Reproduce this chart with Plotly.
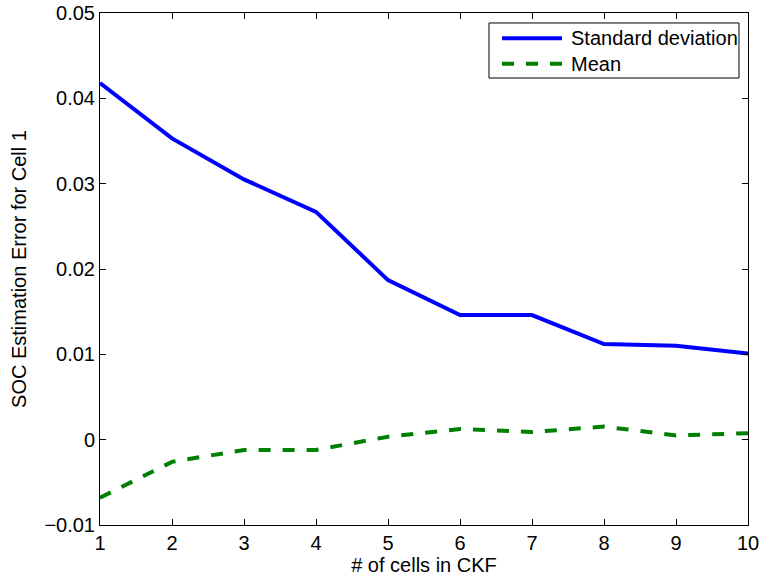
import plotly.graph_objects as go

# Number of cells included in the CKF
cells = [1, 2, 3, 4, 5, 6, 7, 8, 9, 10]

# SOC estimation error statistics for cell 1
std_dev = [0.0418, 0.0353, 0.0305, 0.0267, 0.0187, 0.0146, 0.0146, 0.0112, 0.0110, 0.0101]
mean_err = [-0.0068, -0.0026, -0.0012, -0.0012, 0.00035, 0.00125, 0.0009, 0.00153, 0.0005, 0.00075]

series_names = ["Standard deviation", "Mean"]
series_colors = ["#0000FF", "#008000"]
series_dash = ["solid", "12px,12px"]

y_ticks = [-0.01, 0, 0.01, 0.02, 0.03, 0.04, 0.05]
y_tick_text = ["\u22120.01", "0", "0.01", "0.02", "0.03", "0.04", "0.05"]

font_family = "Liberation Sans, Arial, Helvetica, sans-serif"
fsize = 20

fig = go.Figure()
for yvals, name, color, dash in zip([std_dev, mean_err], series_names, series_colors, series_dash):
    fig.add_trace(go.Scatter(
        x=cells, y=yvals, mode="lines", name=name, showlegend=False,
        line=dict(color=color, width=4, dash=dash),
    ))

axis_common = dict(
    showline=True, linecolor="black", linewidth=1, mirror="ticks",
    ticks="inside", ticklen=6, tickcolor="black", tickwidth=1,
    showgrid=False, zeroline=False, automargin=False,
    tickfont=dict(family=font_family, size=fsize, color="black"),
)

# Boxed legend in the upper right corner of the axes
shapes = [dict(
    type="rect", xref="paper", yref="paper",
    x0=0.6003, x1=0.9861, y0=0.873, y1=0.9805,
    line=dict(color="black", width=1), fillcolor="white", layer="above",
)]
annotations = []
legend_rows = [0.9506, 0.9010]
for row_y, name, color, dash in zip(legend_rows, series_names, series_colors, series_dash):
    shapes.append(dict(
        type="line", xref="paper", yref="paper",
        x0=0.6204, x1=0.7130, y0=row_y, y1=row_y,
        line=dict(color=color, width=4, dash=dash), layer="above",
    ))
    annotations.append(dict(
        xref="paper", yref="paper", x=0.7238, y=row_y,
        xanchor="left", yanchor="middle", showarrow=False,
        text=name, font=dict(family=font_family, size=fsize, color="black"),
    ))

fig.update_layout(
    width=764, height=582,
    margin=dict(l=100, r=16, t=13, b=57),
    paper_bgcolor="white", plot_bgcolor="white",
    font=dict(family=font_family, size=fsize, color="black"),
    showlegend=False,
    xaxis=dict(
        range=[1, 10], tickvals=cells,
        title=dict(text="# of cells in CKF", font=dict(family=font_family, size=fsize), standoff=4),
        **axis_common,
    ),
    yaxis=dict(
        range=[-0.01, 0.05], tickvals=y_ticks, ticktext=y_tick_text,
        title=dict(text="SOC Estimation Error for Cell 1", font=dict(family=font_family, size=fsize), standoff=12),
        **axis_common,
    ),
    shapes=shapes,
    annotations=annotations,
)

fig.write_html("out.html")
